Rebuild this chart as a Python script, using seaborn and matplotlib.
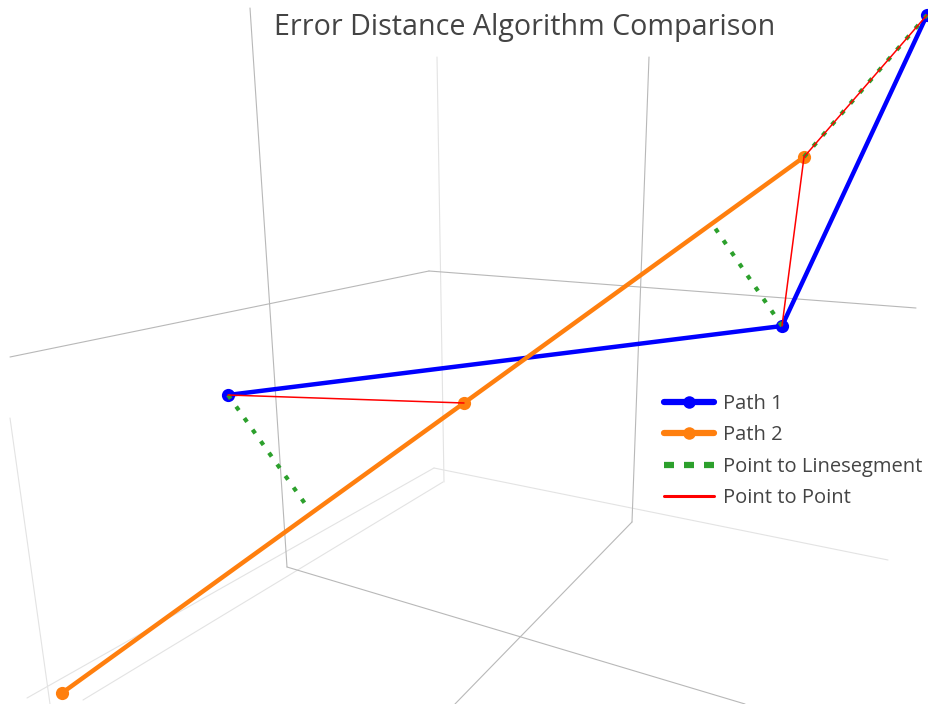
import matplotlib
matplotlib.use("Agg")
import matplotlib.pyplot as plt
from matplotlib.lines import Line2D
import pandas as pd
import seaborn as sns

# Projected (screen-plane) coordinates of the 3-D scene, pixels from top-left
path1_x = [228, 782, 927]
path1_y = [395, 326, 15]
path2_x = [62, 464, 804]
path2_y = [693, 403, 157]

# Point-to-point error segments
p2p_x0 = [228, 782, 804]
p2p_y0 = [395, 326, 157]
p2p_x1 = [464, 804, 927]
p2p_y1 = [403, 157, 15]

# Point-to-linesegment error segments
p2l_x0 = [228, 782, 804]
p2l_y0 = [395, 326, 157]
p2l_x1 = [306, 715, 927]
p2l_y1 = [505, 228, 15]

# Scene frame: axis lines of the 3-D box
frame_x0 = [250, 10, 429, 649, 632, 287]
frame_y0 = [8, 357, 271, 57, 522, 567]
frame_x1 = [287, 429, 916, 632, 455, 745]
frame_y1 = [567, 271, 308, 522, 704, 704]

# Scene frame: faint grid lines
grid_x0 = [437, 434, 434, 443, 10]
grid_y0 = [57, 468, 468, 482, 418]
grid_x1 = [444, 888, 27, 83, 50]
grid_y1 = [482, 560, 698, 700, 704]

title = "Error Distance Algorithm Comparison"
labels = ["Path 1", "Path 2", "Point to Linesegment", "Point to Point"]
colors = ["#0000ff", "#ff7f0e", "#2ca02c", "#ff0000"]

W, H = 929, 704


def segments(x0, y0, x1, y1):
    rows = []
    for i, (a, b, c, d) in enumerate(zip(x0, y0, x1, y1)):
        rows.append({"seg": i, "x": a, "y": b})
        rows.append({"seg": i, "x": c, "y": d})
    return pd.DataFrame(rows)


sns.set_theme(style="white")
plt.rcParams["font.family"] = ["Open Sans", "DejaVu Sans"]

fig = plt.figure(figsize=(W / 100, H / 100), dpi=100)
ax = fig.add_axes([0, 0, 1, 1])
ax.set_xlim(0, W)
ax.set_ylim(H, 0)
ax.axis("off")

line_kw = dict(x="x", y="y", units="seg", estimator=None, sort=False, ax=ax, legend=False)

sns.lineplot(data=segments(grid_x0, grid_y0, grid_x1, grid_y1),
             color="#e3e3e3", linewidth=0.8, zorder=1, **line_kw)
sns.lineplot(data=segments(frame_x0, frame_y0, frame_x1, frame_y1),
             color="#b8b8b8", linewidth=0.8, zorder=1, **line_kw)

path1 = pd.DataFrame({"x": path1_x, "y": path1_y})
path2 = pd.DataFrame({"x": path2_x, "y": path2_y})
sns.lineplot(data=path1, x="x", y="y", sort=False, ax=ax, color=colors[0],
             linewidth=3.2, marker="o", markersize=9.5, markeredgewidth=0, zorder=3)
sns.lineplot(data=path2, x="x", y="y", sort=False, ax=ax, color=colors[1],
             linewidth=3.2, marker="o", markersize=9.5, markeredgewidth=0, zorder=4)

sns.lineplot(data=segments(p2l_x0, p2l_y0, p2l_x1, p2l_y1),
             color=colors[2], linewidth=3.0, zorder=5,
             dashes=False, linestyle=(0, (1.1, 2.3)), **line_kw)
sns.lineplot(data=segments(p2p_x0, p2p_y0, p2p_x1, p2p_y1),
             color=colors[3], linewidth=1.1, zorder=6, **line_kw)

handles = [
    Line2D([], [], color=colors[0], linewidth=4.5, marker="o", markersize=9, markeredgewidth=0),
    Line2D([], [], color=colors[1], linewidth=4.5, marker="o", markersize=9, markeredgewidth=0),
    Line2D([], [], color=colors[2], linewidth=4.5, linestyle=(0, (1.6, 1.6))),
    Line2D([], [], color=colors[3], linewidth=2.2),
]
leg = ax.legend(handles, labels, loc="upper left", bbox_to_anchor=(664 / W, 1 - 394 / H),
                frameon=False, fontsize=14.5, handlelength=2.48, handletextpad=0.45,
                labelspacing=0.57, borderpad=0, borderaxespad=0, numpoints=1)
for t in leg.get_texts():
    t.set_color("#444444")

fig.text(525 / W, 1 - 28 / H, title, ha="center", va="center",
         fontsize=20.6, color="#444444")

ax.set_xlabel("")
ax.set_ylabel("")
fig.savefig("out.png", dpi=100)
